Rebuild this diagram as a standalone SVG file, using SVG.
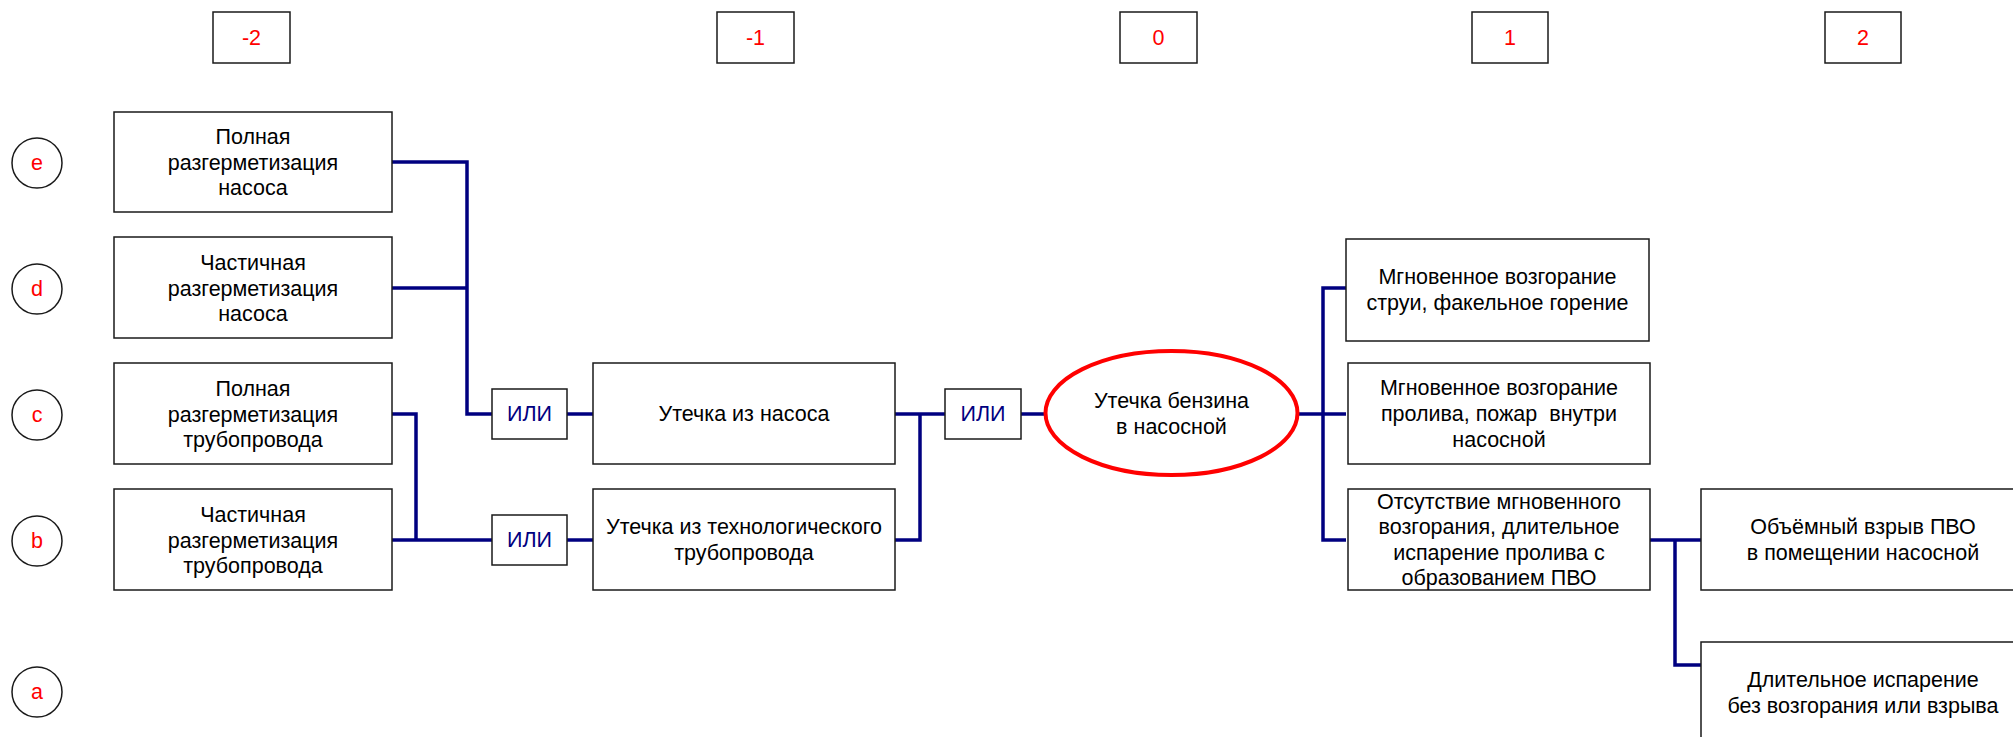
<svg xmlns="http://www.w3.org/2000/svg" width="2013" height="737" viewBox="0 0 2013 737">
  <style>
    .box { fill: #ffffff; stroke: #1a1a1a; stroke-width: 1.5; }
    .lbl { font-family: "Liberation Sans", Arial, sans-serif; font-size: 21.5px; fill: #000000; text-anchor: middle; }
    .red { font-family: "Liberation Sans", Arial, sans-serif; font-size: 21.5px; fill: #ff0000; text-anchor: middle; }
    .gate { font-family: "Liberation Sans", Arial, sans-serif; font-size: 21.5px; fill: #000080; text-anchor: middle; }
    .wire { fill: none; stroke: #000080; stroke-width: 3.5; stroke-linejoin: miter; }
    .ring { fill: #ffffff; stroke: #1a1a1a; stroke-width: 1.5; }
  </style>

  <!-- column indices -->
  <g id="col-m2"><rect class="box" x="213" y="12" width="77" height="51"/><text class="red" x="251.5" y="45">-2</text></g>
  <g id="col-m1"><rect class="box" x="717" y="12" width="77" height="51"/><text class="red" x="755.5" y="45">-1</text></g>
  <g id="col-0"><rect class="box" x="1120" y="12" width="77" height="51"/><text class="red" x="1158.5" y="45">0</text></g>
  <g id="col-1"><rect class="box" x="1472" y="12" width="76" height="51"/><text class="red" x="1510" y="45">1</text></g>
  <g id="col-2"><rect class="box" x="1825" y="12" width="76" height="51"/><text class="red" x="1863" y="45">2</text></g>

  <!-- row indices -->
  <g id="row-e"><circle class="ring" cx="37" cy="163" r="25"/><text class="red" x="37" y="170">e</text></g>
  <g id="row-d"><circle class="ring" cx="37" cy="289" r="25"/><text class="red" x="37" y="296">d</text></g>
  <g id="row-c"><circle class="ring" cx="37" cy="415" r="25"/><text class="red" x="37" y="422">c</text></g>
  <g id="row-b"><circle class="ring" cx="37" cy="541" r="25"/><text class="red" x="37" y="548">b</text></g>
  <g id="row-a"><circle class="ring" cx="37" cy="692" r="25"/><text class="red" x="37" y="699">a</text></g>

  <!-- connectors -->
  <g id="connectors">
    <path class="wire" d="M392,162 H467 V414 H492"/>
    <path class="wire" d="M392,288 H467"/>
    <path class="wire" d="M392,414 H416 V540"/>
    <path class="wire" d="M392,540 H492"/>
    <path class="wire" d="M567,414 H593"/>
    <path class="wire" d="M567,540 H593"/>
    <path class="wire" d="M895,414 H945"/>
    <path class="wire" d="M895,540 H920 V414"/>
    <path class="wire" d="M1021,414 H1046"/>
    <path class="wire" d="M1297,414 H1346"/>
    <path class="wire" d="M1346,288 H1323 V540 H1346"/>
    <path class="wire" d="M1649,540 H1701"/>
    <path class="wire" d="M1675,540 V665 H1701"/>
  </g>

  <!-- initiating events -->
  <g id="e-pump-full">
    <rect class="box" x="114" y="112" width="278" height="100"/>
    <text class="lbl" x="253" y="144">Полная</text>
    <text class="lbl" x="253" y="170">разгерметизация</text>
    <text class="lbl" x="253" y="195">насоса</text>
  </g>
  <g id="d-pump-partial">
    <rect class="box" x="114" y="237" width="278" height="101"/>
    <text class="lbl" x="253" y="270">Частичная</text>
    <text class="lbl" x="253" y="296">разгерметизация</text>
    <text class="lbl" x="253" y="321">насоса</text>
  </g>
  <g id="c-pipe-full">
    <rect class="box" x="114" y="363" width="278" height="101"/>
    <text class="lbl" x="253" y="396">Полная</text>
    <text class="lbl" x="253" y="422">разгерметизация</text>
    <text class="lbl" x="253" y="447">трубопровода</text>
  </g>
  <g id="b-pipe-partial">
    <rect class="box" x="114" y="489" width="278" height="101"/>
    <text class="lbl" x="253" y="522">Частичная</text>
    <text class="lbl" x="253" y="548">разгерметизация</text>
    <text class="lbl" x="253" y="573">трубопровода</text>
  </g>

  <!-- OR gates -->
  <g id="or-pump"><rect class="box" x="492" y="389" width="75" height="50"/><text class="gate" x="529.5" y="421">ИЛИ</text></g>
  <g id="or-pipe"><rect class="box" x="492" y="515" width="75" height="50"/><text class="gate" x="529.5" y="547">ИЛИ</text></g>
  <g id="or-leak"><rect class="box" x="945" y="389" width="76" height="50"/><text class="gate" x="983" y="421">ИЛИ</text></g>

  <!-- intermediate events -->
  <g id="leak-pump">
    <rect class="box" x="593" y="363" width="302" height="101"/>
    <text class="lbl" x="744" y="421">Утечка из насоса</text>
  </g>
  <g id="leak-pipe">
    <rect class="box" x="593" y="489" width="302" height="101"/>
    <text class="lbl" x="744" y="534">Утечка из технологического</text>
    <text class="lbl" x="744" y="560">трубопровода</text>
  </g>

  <!-- top event -->
  <g id="top-event">
    <ellipse cx="1171.5" cy="413" rx="126" ry="62" fill="#ffffff" stroke="#ff0000" stroke-width="4"/>
    <text class="lbl" x="1171.5" y="408">Утечка бензина</text>
    <text class="lbl" x="1171.5" y="434">в насосной</text>
  </g>

  <!-- consequences -->
  <g id="jet-fire">
    <rect class="box" x="1346" y="239" width="303" height="102"/>
    <text class="lbl" x="1497.5" y="284">Мгновенное возгорание</text>
    <text class="lbl" x="1497.5" y="310">струи, факельное горение</text>
  </g>
  <g id="pool-fire">
    <rect class="box" x="1348" y="363" width="302" height="101"/>
    <text class="lbl" x="1499" y="395">Мгновенное возгорание</text>
    <text class="lbl" x="1499" y="421">пролива, пожар&#160; внутри</text>
    <text class="lbl" x="1499" y="447">насосной</text>
  </g>
  <g id="vapour-cloud">
    <rect class="box" x="1348" y="489" width="302" height="101"/>
    <text class="lbl" x="1499" y="509">Отсутствие мгновенного</text>
    <text class="lbl" x="1499" y="534">возгорания, длительное</text>
    <text class="lbl" x="1499" y="560">испарение пролива с</text>
    <text class="lbl" x="1499" y="585">образованием ПВО</text>
  </g>
  <g id="explosion">
    <rect class="box" x="1701" y="489" width="325" height="101"/>
    <text class="lbl" x="1863" y="534">Объёмный взрыв ПВО</text>
    <text class="lbl" x="1863" y="560">в помещении насосной</text>
  </g>
  <g id="evaporation">
    <rect class="box" x="1701" y="642" width="325" height="101"/>
    <text class="lbl" x="1863" y="687">Длительное испарение</text>
    <text class="lbl" x="1863" y="713">без возгорания или взрыва</text>
  </g>
</svg>
